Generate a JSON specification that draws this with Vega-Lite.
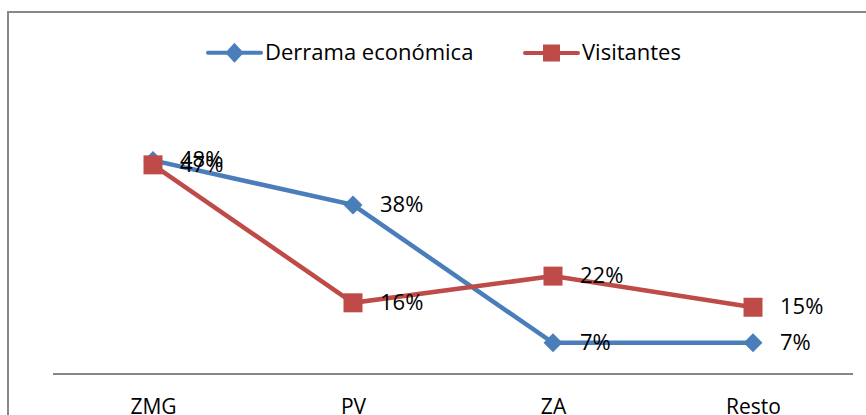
{
  "$schema": "https://vega.github.io/schema/vega-lite/v6.json",
  "width": 890,
  "height": 420,
  "autosize": {"type": "none"},
  "padding": {"left": 8, "top": 12, "right": -32, "bottom": -17},
  "background": "white",
  "config": {
    "view": {"stroke": "#888888", "strokeWidth": 2},
    "font": "Open Sans"
  },
  "data": {
    "values": [
      {"zona": "ZMG", "serie": "Derrama económica", "valor": 0.48},
      {"zona": "PV", "serie": "Derrama económica", "valor": 0.38},
      {"zona": "ZA", "serie": "Derrama económica", "valor": 0.07},
      {"zona": "Resto", "serie": "Derrama económica", "valor": 0.07},
      {"zona": "ZMG", "serie": "Visitantes", "valor": 0.47},
      {"zona": "PV", "serie": "Visitantes", "valor": 0.16},
      {"zona": "ZA", "serie": "Visitantes", "valor": 0.22},
      {"zona": "Resto", "serie": "Visitantes", "valor": 0.15}
    ]
  },
  "encoding": {
    "x": {
      "field": "zona",
      "type": "nominal",
      "scale": {"type": "point", "padding": 0.725, "domain": ["ZMG", "PV", "ZA", "Resto"]},
      "axis": {
        "title": null,
        "orient": "bottom",
        "offset": -58,
        "domain": false,
        "ticks": false,
        "grid": false,
        "labelAngle": 0,
        "labelPadding": 22,
        "labelFont": "Open Sans",
        "labelFontSize": 21,
        "labelColor": "#000000"
      }
    },
    "y": {
      "field": "valor",
      "type": "quantitative",
      "scale": {"domain": [-0.1303, 0.8135], "nice": false, "zero": false},
      "axis": null
    }
  },
  "layer": [
    {
      "mark": {"type": "rule", "color": "#868686", "strokeWidth": 2, "xOffset": -100, "x2Offset": 100},
      "encoding": {
        "x": {"datum": "ZMG"},
        "x2": {"datum": "Resto"},
        "y": {"datum": 0}
      }
    },
    {
      "mark": {"type": "line", "strokeWidth": 4.5},
      "encoding": {
        "color": {
          "field": "serie",
          "type": "nominal",
          "scale": {"domain": ["Derrama económica", "Visitantes"], "range": ["#4A7EBB", "#BE4B48"]},
          "legend": {
            "title": null,
            "orient": "none",
            "direction": "horizontal",
            "legendX": 196,
            "legendY": 10,
            "padding": 0,
            "columns": 2,
            "columnPadding": 42,
            "symbolSize": 3249,
            "symbolStrokeWidth": 4,
            "labelOffset": 0,
            "labelFont": "Open Sans",
            "labelFontSize": 22,
            "labelColor": "#000000",
            "labelLimit": 400,
            "encode": {
              "symbols": {
                "update": {
                  "shape": {"signal": "datum.value == 'Visitantes' ? 'M-0.93,0L0.93,0M-0.228,-0.228L0.228,-0.228L0.228,0.228L-0.228,0.228Z' : 'M-0.93,0L0.93,0M0,-0.245L0.228,0L0,0.245L-0.228,0Z'"},
                  "stroke": {"signal": "datum.value == 'Visitantes' ? '#BE4B48' : '#4A7EBB'"},
                  "fill": {"signal": "datum.value == 'Visitantes' ? '#BE4B48' : '#4A7EBB'"},
                  "strokeCap": {"value": "round"},
                  "strokeWidth": {"value": 4},
                  "opacity": {"value": 1}
                }
              }
            }
          }
        }
      }
    },
    {
      "transform": [{"filter": "datum.serie == 'Derrama económica'"}],
      "mark": {"type": "point", "shape": "diamond", "filled": true, "opacity": 1, "size": 361, "color": "#4A7EBB"}
    },
    {
      "transform": [{"filter": "datum.serie == 'Visitantes'"}],
      "mark": {"type": "point", "shape": "square", "filled": true, "opacity": 1, "size": 361, "color": "#BE4B48"}
    },
    {
      "mark": {"type": "text", "align": "left", "baseline": "middle", "dx": 27, "fontSize": 22, "font": "Open Sans", "color": "#000000"},
      "encoding": {
        "text": {"field": "valor", "type": "quantitative", "format": ".0%"}
      }
    }
  ]
}
